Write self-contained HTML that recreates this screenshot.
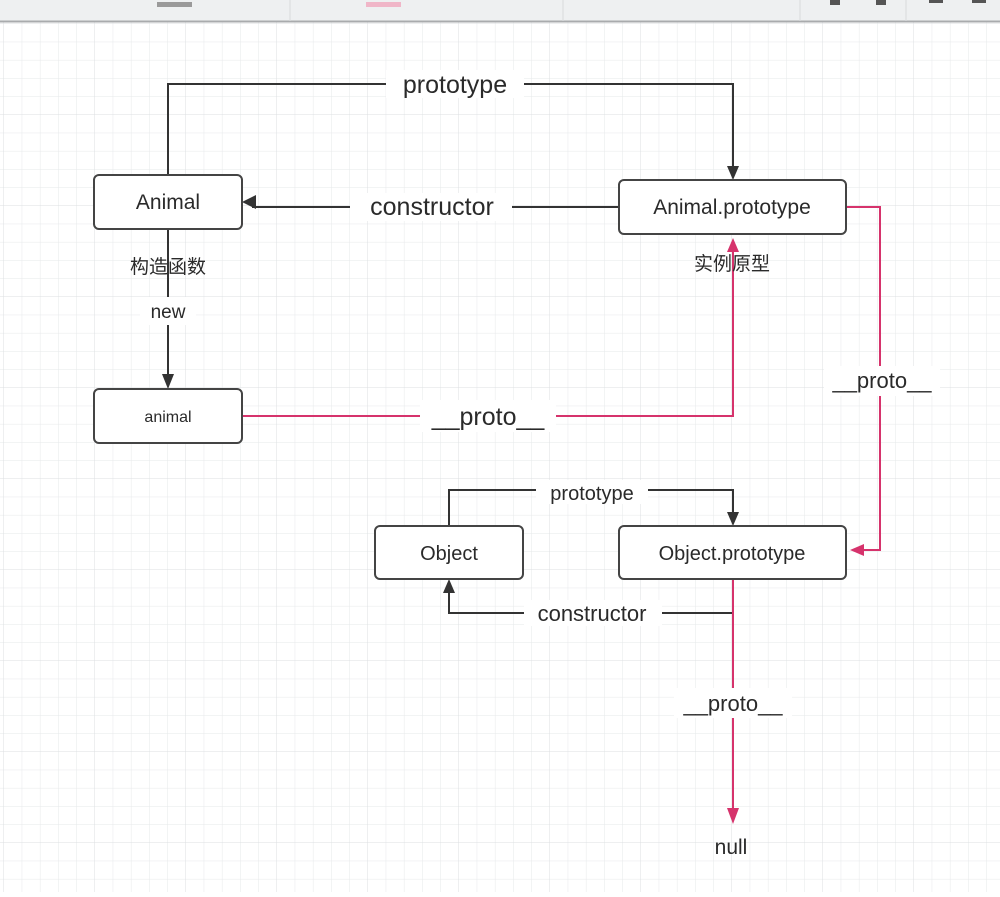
<!DOCTYPE html>
<html><head><meta charset="utf-8"><style>
body{margin:0;width:1000px;height:892px;overflow:hidden;background:#fff}
svg text{font-family:"Liberation Sans","Noto Sans CJK SC",sans-serif;fill:#2a2a2a}
</style></head><body>
<svg width="1000" height="892" viewBox="0 0 1000 892" xmlns="http://www.w3.org/2000/svg">
<defs>
<pattern id="g" x="4" y="24" width="18.2" height="18.2" patternUnits="userSpaceOnUse">
<path d="M18.2 0V18.2M0 18.2H18.2" stroke="#e6e8ea" stroke-width="1" fill="none"/>
</pattern>
<pattern id="G" x="4" y="24" width="91" height="91" patternUnits="userSpaceOnUse">
<path d="M91 0V91M0 91H91" stroke="#dcdfe2" stroke-width="1" fill="none"/>
</pattern>
</defs>
<rect width="1000" height="892" fill="#fff"/>
<rect y="22" width="1000" height="870" fill="url(#g)"/>
<rect y="22" width="1000" height="870" fill="url(#G)"/>
<rect width="1000" height="21" fill="#eef0f1"/>
<line x1="0" y1="21.5" x2="1000" y2="21.5" stroke="#a9abad" stroke-width="2"/>
<g stroke="#d8dadc"><line x1="290" y1="0" x2="290" y2="21"/><line x1="563" y1="0" x2="563" y2="21"/><line x1="800" y1="0" x2="800" y2="21"/><line x1="906" y1="0" x2="906" y2="21"/></g>
<rect x="157" y="2" width="35" height="5" fill="#9a9a9a"/>
<rect x="366" y="2" width="35" height="5" fill="#f0b6c8"/>
<g fill="#555"><rect x="830" y="0" width="10" height="5"/><rect x="876" y="0" width="10" height="5"/><rect x="929" y="0" width="14" height="3"/><rect x="972" y="0" width="14" height="3"/></g>

<g fill="none" stroke="#333" stroke-width="2">
<path d="M168 175V84H733V170"/>
<path d="M619 207H252"/>
<path d="M168 229V378"/>
<path d="M449 526V490H733V516"/>
<path d="M733 579V613H449V589"/>
</g>
<g fill="#333">
<path d="M727 166L739 166L733 180Z"/>
<path d="M256 195L256 209L242 202Z"/>
<path d="M162 374L174 374L168 389Z"/>
<path d="M727 512L739 512L733 526Z"/>
<path d="M443 593L455 593L449 579Z"/>
</g>
<g fill="none" stroke="#d6336c" stroke-width="2">
<path d="M242 416H733V248"/>
<path d="M846 207H880V550H860"/>
<path d="M733 579V812"/>
</g>
<g fill="#d6336c">
<path d="M727 252L739 252L733 238Z"/>
<path d="M864 544L864 556L850 550Z"/>
<path d="M727 808L739 808L733 824Z"/>
</g>

<g fill="#fff" stroke="#444" stroke-width="2">
<rect x="94" y="175" width="148" height="54" rx="5"/>
<rect x="619" y="180" width="227" height="54" rx="5"/>
<rect x="94" y="389" width="148" height="54" rx="5"/>
<rect x="375" y="526" width="148" height="53" rx="5"/>
<rect x="619" y="526" width="227" height="53" rx="5"/>
</g>
<g text-anchor="middle">
<text x="168" y="209" font-size="21">Animal</text>
<text x="732" y="214" font-size="21">Animal.prototype</text>
<text x="168" y="422" font-size="16">animal</text>
<text x="449" y="560" font-size="20">Object</text>
<text x="732" y="560" font-size="20">Object.prototype</text>

<rect x="386" y="70" width="138" height="28" fill="#fff" stroke="none"/>
<text x="455" y="93" font-size="25">prototype</text>
<rect x="350" y="193" width="162" height="28" fill="#fff"/>
<text x="432" y="215" font-size="25">constructor</text>
<text x="168" y="273" font-size="19">构造函数</text>
<rect x="140" y="297" width="56" height="28" fill="#fff"/>
<text x="168" y="318" font-size="19">new</text>
<text x="732" y="270" font-size="19">实例原型</text>
<rect x="420" y="400" width="136" height="32" fill="#fff"/>
<text x="488" y="425" font-size="25">__proto__</text>
<rect x="824" y="366" width="116" height="30" fill="#fff"/>
<text x="882" y="388" font-size="22">__proto__</text>
<rect x="536" y="480" width="112" height="24" fill="#fff"/>
<text x="592" y="500" font-size="20">prototype</text>
<rect x="524" y="600" width="138" height="26" fill="#fff"/>
<text x="592" y="621" font-size="22">constructor</text>
<rect x="674" y="688" width="118" height="30" fill="#fff"/>
<text x="733" y="711" font-size="22">__proto__</text>
<text x="731" y="854" font-size="21">null</text>
</g>
</svg>
</body></html>
